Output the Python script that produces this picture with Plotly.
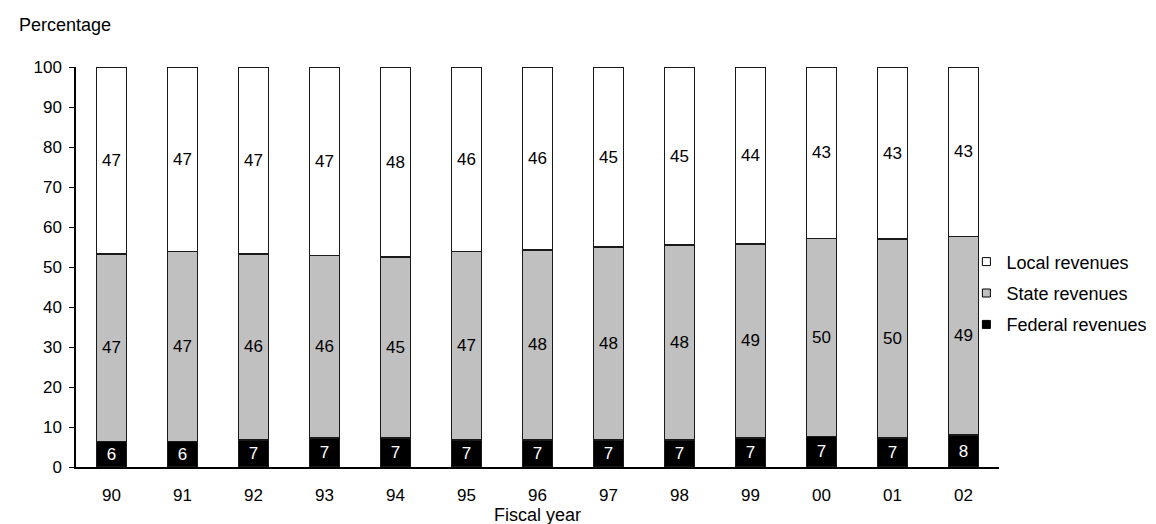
import plotly.graph_objects as go

years = ["90", "91", "92", "93", "94", "95", "96", "97", "98", "99", "00", "01", "02"]
federal = [6.4, 6.4, 6.8, 7.2, 7.2, 6.8, 6.8, 6.8, 6.8, 7.3, 7.6, 7.2, 8.0]
state = [46.9, 47.5, 46.5, 45.7, 45.3, 47.1, 47.5, 48.2, 48.7, 48.5, 49.5, 49.8, 49.6]
local = [46.7, 46.1, 46.7, 47.1, 47.5, 46.1, 45.7, 45.0, 44.5, 44.2, 42.9, 43.0, 42.4]
federal_labels = ["6", "6", "7", "7", "7", "7", "7", "7", "7", "7", "7", "7", "8"]
state_labels = ["47", "47", "46", "46", "45", "47", "48", "48", "48", "49", "50", "50", "49"]
local_labels = ["47", "47", "47", "47", "48", "46", "46", "45", "45", "44", "43", "43", "43"]

FONT = "Liberation Sans, Arial, sans-serif"
line = dict(color="#1a1a1a", width=1.5)

series = [
    ("Federal revenues", federal, federal_labels, "#000000", "white"),
    ("State revenues", state, state_labels, "#c0c0c0", "black"),
    ("Local revenues", local, local_labels, "#ffffff", "black"),
]

fig = go.Figure()
for name, vals, labels, color, tcolor in series:
    fig.add_trace(go.Bar(x=years, y=vals, name=name, text=labels, showlegend=False,
                         marker=dict(color=color, line=line),
                         textposition="inside", insidetextanchor="middle",
                         textfont=dict(color=tcolor, size=17, family=FONT),
                         textangle=0))
# legend entries: Local on top, Federal at bottom
for name, vals, labels, color, tcolor in reversed(series):
    fig.add_trace(go.Scatter(x=[None], y=[None], name=name, mode="markers",
                             legendgroup=name, showlegend=True,
                             marker=dict(symbol="square", size=8, color=color,
                                         line=dict(color="black", width=1))))

fig.update_layout(
    barmode="stack",
    bargap=0.58,
    width=1156, height=524,
    margin=dict(l=68, r=154, t=59, b=60),
    plot_bgcolor="white", paper_bgcolor="white",
    font=dict(family=FONT, size=17, color="black"),
    uniformtext=dict(minsize=10, mode="show"),
    legend=dict(traceorder="grouped", x=(969 - 68) / 934, xanchor="left",
                y=0.434, yanchor="middle", font=dict(size=18), itemwidth=30,
                tracegroupgap=5, bgcolor="rgba(0,0,0,0)"),
    xaxis=dict(type="category", range=[-0.5, 12.5], showline=True, linecolor="black",
               linewidth=1.5, ticks="", showgrid=False, zeroline=False,
               tickfont=dict(size=17), ticklabelstandoff=12,
               title=dict(text="Fiscal year", standoff=2, font=dict(size=18))),
    yaxis=dict(range=[0, 100], dtick=10, showline=True, linecolor="black", linewidth=1.5,
               ticks="outside", ticklen=5, tickcolor="black", tickwidth=1.2,
               ticklabelstandoff=4,
               showgrid=False, zeroline=False, tickfont=dict(size=17)),
    annotations=[dict(text="Percentage", xref="paper", yref="paper", x=(8 - 68) / 934, y=1.0,
                      xanchor="left", yanchor="middle", yshift=42, showarrow=False,
                      font=dict(size=18))],
)

fig.write_html("out.html")
